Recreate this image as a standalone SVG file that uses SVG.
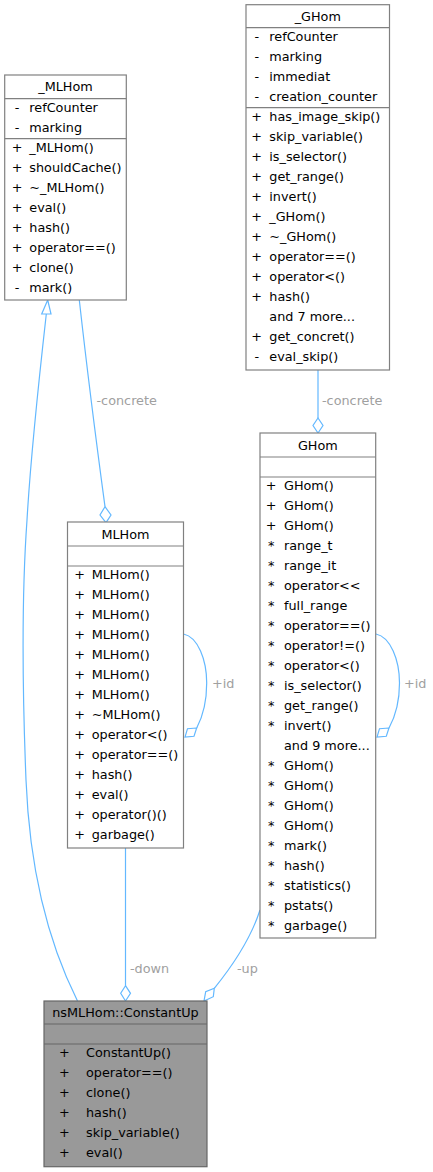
<svg xmlns="http://www.w3.org/2000/svg" width="433" height="1172" viewBox="0 0 433 1172">
<style>
text{font-family:"DejaVu Sans","Liberation Sans",sans-serif;font-size:12.8px;fill:#000}
.t{text-anchor:middle}
.s{text-anchor:middle}
.box{fill:#fff;stroke:#808080;stroke-width:1.2}
.cur{fill:#999;stroke:#666;stroke-width:1.2}
.div{stroke:#808080;stroke-width:1.2}
.dcur{stroke:#666;stroke-width:1.2}
.e{fill:none;stroke:#63b8ff;stroke-width:1.2}
.h{fill:#fff;stroke:#63b8ff;stroke-width:1.2}
.lbl{fill:#a0a0a0}
</style>
<g id="connectors">
<path class="e" d="M77.5,1001 C52,950 30,880 26,780 C22,680 22,590 27,520 C31,450 40,370 46.3,314"/>
<polygon class="h" points="47.7,300 41.7,314 51,314"/>
<path class="e" d="M79.3,300 C86,360 96,440 105,506.7"/>
<polygon class="h" points="105,506.7 100,515 106,522.7 111,515"/>
<text class="lbl" x="96.5" y="405">-concrete</text>
<path class="e" d="M318,370 L318,418"/>
<polygon class="h" points="318,418 313,425.5 318,433 323,425.5"/>
<text class="lbl" x="322" y="405">-concrete</text>
<path class="e" d="M183.5,634 C198,637 206.7,660 206.7,683 C206.7,705 202,718 196.7,728"/>
<polygon class="h" points="196.7,728 187.5,728.7 185,737 194,736.3"/>
<text class="lbl" x="212" y="688">+id</text>
<path class="e" d="M376,634 C390.5,637 399.5,660 399.5,683 C399.5,705 394.5,718 389,728"/>
<polygon class="h" points="389,728 379.5,728.7 377,737 386.3,736.3"/>
<text class="lbl" x="404" y="688">+id</text>
<path class="e" d="M125.5,848 L125.5,985.7"/>
<polygon class="h" points="125.5,985.7 120.7,993.3 125.5,1001 130.5,993.3"/>
<text class="lbl" x="130" y="973">-down</text>
<path class="e" d="M260,910 C251,938 234,964 214.3,988.3"/>
<polygon class="h" points="214.3,988.3 205.7,991.7 204,1001 213.3,996.7"/>
<text class="lbl" x="237" y="973">-up</text>
</g>
<g id="node_MLHom_base">
<rect class="box" x="4.7" y="75" width="121.6" height="225"/>
<line class="div" x1="4.7" y1="98.7" x2="126.3" y2="98.7"/>
<line class="div" x1="4.7" y1="138.7" x2="126.3" y2="138.7"/>
<text class="t" x="65.5" y="91.4">_MLHom</text>
<text class="s" x="17" y="111.8">-</text><text x="29.3" y="111.8">refCounter</text>
<text class="s" x="17" y="131.8">-</text><text x="29.3" y="131.8">marking</text>
<text class="s" x="17" y="151.8">+</text><text x="29.3" y="151.8">_MLHom()</text>
<text class="s" x="17" y="171.8">+</text><text x="29.3" y="171.8">shouldCache()</text>
<text class="s" x="17" y="191.8">+</text><text x="29.3" y="191.8">~_MLHom()</text>
<text class="s" x="17" y="211.8">+</text><text x="29.3" y="211.8">eval()</text>
<text class="s" x="17" y="231.8">+</text><text x="29.3" y="231.8">hash()</text>
<text class="s" x="17" y="251.8">+</text><text x="29.3" y="251.8">operator==()</text>
<text class="s" x="17" y="271.8">+</text><text x="29.3" y="271.8">clone()</text>
<text class="s" x="17" y="291.8">-</text><text x="29.3" y="291.8">mark()</text>
</g>
<g id="node_GHom_base">
<rect class="box" x="246" y="4.7" width="143.5" height="365.3"/>
<line class="div" x1="246" y1="27.7" x2="389.5" y2="27.7"/>
<line class="div" x1="246" y1="107.7" x2="389.5" y2="107.7"/>
<text class="t" x="317.8" y="20.7">_GHom</text>
<text class="s" x="256.7" y="40.8">-</text><text x="269.3" y="40.8">refCounter</text>
<text class="s" x="256.7" y="60.8">-</text><text x="269.3" y="60.8">marking</text>
<text class="s" x="256.7" y="80.8">-</text><text x="269.3" y="80.8">immediat</text>
<text class="s" x="256.7" y="100.8">-</text><text x="269.3" y="100.8">creation_counter</text>
<text class="s" x="256.7" y="120.8">+</text><text x="269.3" y="120.8">has_image_skip()</text>
<text class="s" x="256.7" y="140.8">+</text><text x="269.3" y="140.8">skip_variable()</text>
<text class="s" x="256.7" y="160.8">+</text><text x="269.3" y="160.8">is_selector()</text>
<text class="s" x="256.7" y="180.8">+</text><text x="269.3" y="180.8">get_range()</text>
<text class="s" x="256.7" y="200.8">+</text><text x="269.3" y="200.8">invert()</text>
<text class="s" x="256.7" y="220.8">+</text><text x="269.3" y="220.8">_GHom()</text>
<text class="s" x="256.7" y="240.8">+</text><text x="269.3" y="240.8">~_GHom()</text>
<text class="s" x="256.7" y="260.8">+</text><text x="269.3" y="260.8">operator==()</text>
<text class="s" x="256.7" y="280.8">+</text><text x="269.3" y="280.8">operator&lt;()</text>
<text class="s" x="256.7" y="300.8">+</text><text x="269.3" y="300.8">hash()</text>
<text x="269.3" y="320.8">and 7 more...</text>
<text class="s" x="256.7" y="340.8">+</text><text x="269.3" y="340.8">get_concret()</text>
<text class="s" x="256.7" y="360.8">-</text><text x="269.3" y="360.8">eval_skip()</text>
</g>
<g id="node_GHom">
<rect class="box" x="260" y="433" width="115.7" height="505"/>
<line class="div" x1="260" y1="457" x2="375.7" y2="457"/>
<line class="div" x1="260" y1="477" x2="375.7" y2="477"/>
<text class="t" x="317.8" y="449.5">GHom</text>
<text class="s" x="271.2" y="490.1">+</text><text x="284" y="490.1">GHom()</text>
<text class="s" x="271.2" y="510.1">+</text><text x="284" y="510.1">GHom()</text>
<text class="s" x="271.2" y="530.1">+</text><text x="284" y="530.1">GHom()</text>
<text class="s" x="271.2" y="550.1">*</text><text x="284" y="550.1">range_t</text>
<text class="s" x="271.2" y="570.1">*</text><text x="284" y="570.1">range_it</text>
<text class="s" x="271.2" y="590.1">*</text><text x="284" y="590.1">operator&lt;&lt;</text>
<text class="s" x="271.2" y="610.1">*</text><text x="284" y="610.1">full_range</text>
<text class="s" x="271.2" y="630.1">*</text><text x="284" y="630.1">operator==()</text>
<text class="s" x="271.2" y="650.1">*</text><text x="284" y="650.1">operator!=()</text>
<text class="s" x="271.2" y="670.1">*</text><text x="284" y="670.1">operator&lt;()</text>
<text class="s" x="271.2" y="690.1">*</text><text x="284" y="690.1">is_selector()</text>
<text class="s" x="271.2" y="710.1">*</text><text x="284" y="710.1">get_range()</text>
<text class="s" x="271.2" y="730.1">*</text><text x="284" y="730.1">invert()</text>
<text x="284" y="750.1">and 9 more...</text>
<text class="s" x="271.2" y="770.1">*</text><text x="284" y="770.1">GHom()</text>
<text class="s" x="271.2" y="790.1">*</text><text x="284" y="790.1">GHom()</text>
<text class="s" x="271.2" y="810.1">*</text><text x="284" y="810.1">GHom()</text>
<text class="s" x="271.2" y="830.1">*</text><text x="284" y="830.1">GHom()</text>
<text class="s" x="271.2" y="850.1">*</text><text x="284" y="850.1">mark()</text>
<text class="s" x="271.2" y="870.1">*</text><text x="284" y="870.1">hash()</text>
<text class="s" x="271.2" y="890.1">*</text><text x="284" y="890.1">statistics()</text>
<text class="s" x="271.2" y="910.1">*</text><text x="284" y="910.1">pstats()</text>
<text class="s" x="271.2" y="930.1">*</text><text x="284" y="930.1">garbage()</text>
</g>
<g id="node_MLHom">
<rect class="box" x="67.5" y="522" width="116" height="326"/>
<line class="div" x1="67.5" y1="546" x2="183.5" y2="546"/>
<line class="div" x1="67.5" y1="566" x2="183.5" y2="566"/>
<text class="t" x="125.5" y="538.5">MLHom</text>
<text class="s" x="79.5" y="579.1">+</text><text x="91.7" y="579.1">MLHom()</text>
<text class="s" x="79.5" y="599.1">+</text><text x="91.7" y="599.1">MLHom()</text>
<text class="s" x="79.5" y="619.1">+</text><text x="91.7" y="619.1">MLHom()</text>
<text class="s" x="79.5" y="639.1">+</text><text x="91.7" y="639.1">MLHom()</text>
<text class="s" x="79.5" y="659.1">+</text><text x="91.7" y="659.1">MLHom()</text>
<text class="s" x="79.5" y="679.1">+</text><text x="91.7" y="679.1">MLHom()</text>
<text class="s" x="79.5" y="699.1">+</text><text x="91.7" y="699.1">MLHom()</text>
<text class="s" x="79.5" y="719.1">+</text><text x="91.7" y="719.1">~MLHom()</text>
<text class="s" x="79.5" y="739.1">+</text><text x="91.7" y="739.1">operator&lt;()</text>
<text class="s" x="79.5" y="759.1">+</text><text x="91.7" y="759.1">operator==()</text>
<text class="s" x="79.5" y="779.1">+</text><text x="91.7" y="779.1">hash()</text>
<text class="s" x="79.5" y="799.1">+</text><text x="91.7" y="799.1">eval()</text>
<text class="s" x="79.5" y="819.1">+</text><text x="91.7" y="819.1">operator()()</text>
<text class="s" x="79.5" y="839.1">+</text><text x="91.7" y="839.1">garbage()</text>
</g>
<g id="node_ConstantUp">
<rect class="cur" x="44" y="1001" width="163" height="165.7"/>
<line class="dcur" x1="44" y1="1024" x2="207" y2="1024"/>
<line class="dcur" x1="44" y1="1044" x2="207" y2="1044"/>
<text class="t" x="125.5" y="1017">nsMLHom::ConstantUp</text>
<text class="s" x="64.3" y="1057.1">+</text><text x="86" y="1057.1">ConstantUp()</text>
<text class="s" x="64.3" y="1077.1">+</text><text x="86" y="1077.1">operator==()</text>
<text class="s" x="64.3" y="1097.1">+</text><text x="86" y="1097.1">clone()</text>
<text class="s" x="64.3" y="1117.1">+</text><text x="86" y="1117.1">hash()</text>
<text class="s" x="64.3" y="1137.1">+</text><text x="86" y="1137.1">skip_variable()</text>
<text class="s" x="64.3" y="1157.1">+</text><text x="86" y="1157.1">eval()</text>
</g>
</svg>
